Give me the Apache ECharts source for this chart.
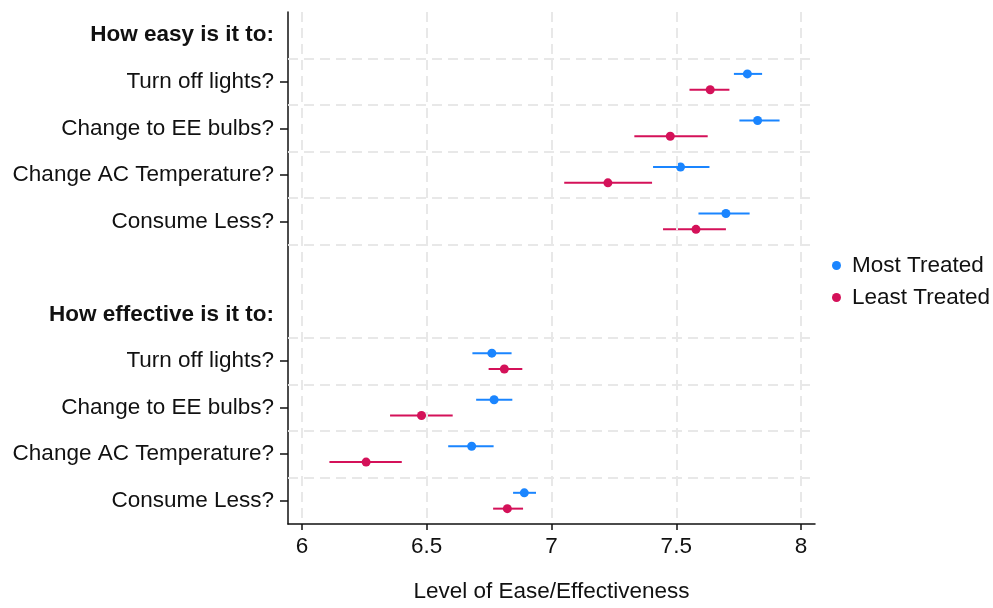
<!DOCTYPE html>
<html>
<head>
<meta charset="utf-8">
<script src="https://cdn.jsdelivr.net/npm/echarts@6/dist/echarts.min.js"></script>
<style>
  html, body { margin: 0; padding: 0; background: #fff; }
  #chart { width: 993px; height: 608px; }
</style>
</head>
<body>
<div id="chart"></div>
<script>
// Row labels, top to bottom (row index = position on the y axis)
const rowLabels = [
  'How easy is it to:',
  'Turn off lights?',
  'Change to EE bulbs?',
  'Change AC Temperature?',
  'Consume Less?',
  '',
  'How effective is it to:',
  'Turn off lights?',
  'Change to EE bulbs?',
  'Change AC Temperature?',
  'Consume Less?'
];
const headerRows = [0, 6];
const itemRows = [1, 2, 3, 4, 7, 8, 9, 10];

// Most Treated: means and 95% CI bounds
const mostMean = [7.785, 7.826, 7.517, 7.699, 6.761, 6.770, 6.680, 6.891];
const mostLow  = [7.731, 7.753, 7.407, 7.589, 6.683, 6.698, 6.586, 6.846];
const mostHigh = [7.844, 7.914, 7.633, 7.794, 6.840, 6.843, 6.768, 6.938];

// Least Treated: means and 95% CI bounds
const leastMean = [7.636, 7.476, 7.226, 7.579, 6.811, 6.479, 6.257, 6.823];
const leastLow  = [7.553, 7.332, 7.051, 7.447, 6.748, 6.353, 6.110, 6.766];
const leastHigh = [7.713, 7.626, 7.403, 7.699, 6.883, 6.604, 6.400, 6.886];

const xTicks = [6, 6.5, 7, 7.5, 8];
const gridRows = [0.5, 1.5, 2.5, 3.5, 4.5, 6.5, 7.5, 8.5, 9.5];

const BLUE = '#1a85ff';
const RED = '#d41159';
const FONT = '"Liberation Sans", Arial, sans-serif';
const FS = 22.5;
const OFFSET = 0.17;

function pointData(means, shift) {
  return itemRows.map((r, i) => [means[i], r + shift]);
}
function barData(lows, highs, shift) {
  return itemRows.map((r, i) => [lows[i], highs[i], r + shift]);
}
function errorBars(color) {
  return function (params, api) {
    const y = api.value(2);
    const a = api.coord([api.value(0), y]);
    const b = api.coord([api.value(1), y]);
    return {
      type: 'line',
      shape: { x1: a[0], y1: a[1], x2: b[0], y2: b[1] },
      style: { stroke: color, lineWidth: 2 }
    };
  };
}

const gridLine = { color: '#e8e8e8', width: 2, type: [10, 6] };

const chart = echarts.init(document.getElementById('chart'), null, { renderer: 'canvas' });
chart.setOption({
  animation: false,
  textStyle: { fontFamily: FONT },
  grid: { left: 288, top: 12, right: 178, bottom: 65, containLabel: false },
  legend: {
    data: ['Most Treated', 'Least Treated'],
    orient: 'vertical',
    left: 827,
    top: 249,
    icon: 'circle',
    itemWidth: 9,
    itemHeight: 9,
    itemGap: 9,
    textStyle: { fontSize: FS, color: '#111', fontFamily: FONT, padding: [0, 0, 0, 6] }
  },
  xAxis: {
    type: 'value',
    min: 5.944,
    max: 8.056,
    name: 'Level of Ease/Effectiveness',
    nameLocation: 'middle',
    nameGap: 56,
    nameTextStyle: { fontSize: FS, color: '#111', fontFamily: FONT },
    axisLine: { show: true, onZero: false, lineStyle: { color: '#111', width: 1.5 } },
    axisTick: { show: true, length: 6, customValues: xTicks, lineStyle: { color: '#111', width: 1.5 } },
    axisLabel: { customValues: xTicks, fontSize: FS, color: '#111', margin: 11, fontFamily: FONT },
    splitLine: { show: false }
  },
  yAxis: {
    type: 'value',
    inverse: true,
    min: -0.5,
    max: 10.5,
    axisLine: { show: true, onZero: false, lineStyle: { color: '#111', width: 1.5 } },
    axisTick: { show: true, length: 8, customValues: itemRows, lineStyle: { color: '#111', width: 1.5 } },
    axisLabel: {
      customValues: [0, 1, 2, 3, 4, 6, 7, 8, 9, 10],
      margin: 14,
      fontSize: FS,
      color: '#111',
      fontFamily: FONT,
      formatter: function (v) {
        const idx = Math.round(v);
        const txt = rowLabels[idx] || '';
        return headerRows.indexOf(idx) >= 0 ? '{h|' + txt + '}' : txt;
      },
      rich: { h: { fontWeight: 'bold', fontSize: FS, color: '#111', fontFamily: FONT } }
    },
    splitLine: { show: false }
  },
  series: [
    {
      type: 'line',
      data: [],
      silent: true,
      z: 0,
      markLine: {
        silent: true,
        symbol: ['none', 'none'],
        label: { show: false },
        lineStyle: gridLine,
        data: xTicks.map(v => ({ xAxis: v })).concat(gridRows.map(v => ({ yAxis: v })))
      }
    },
    {
      name: 'Most Treated',
      type: 'custom',
      renderItem: errorBars(BLUE),
      encode: { x: [0, 1], y: 2 },
      data: barData(mostLow, mostHigh, -OFFSET),
      itemStyle: { color: BLUE },
      z: 2
    },
    {
      name: 'Least Treated',
      type: 'custom',
      renderItem: errorBars(RED),
      encode: { x: [0, 1], y: 2 },
      data: barData(leastLow, leastHigh, OFFSET),
      itemStyle: { color: RED },
      z: 2
    },
    {
      name: 'Most Treated',
      type: 'scatter',
      symbol: 'circle',
      symbolSize: 9,
      itemStyle: { color: BLUE, opacity: 1 },
      data: pointData(mostMean, -OFFSET),
      z: 3
    },
    {
      name: 'Least Treated',
      type: 'scatter',
      symbol: 'circle',
      symbolSize: 9,
      itemStyle: { color: RED, opacity: 1 },
      data: pointData(leastMean, OFFSET),
      z: 3
    }
  ]
});
</script>
</body>
</html>
